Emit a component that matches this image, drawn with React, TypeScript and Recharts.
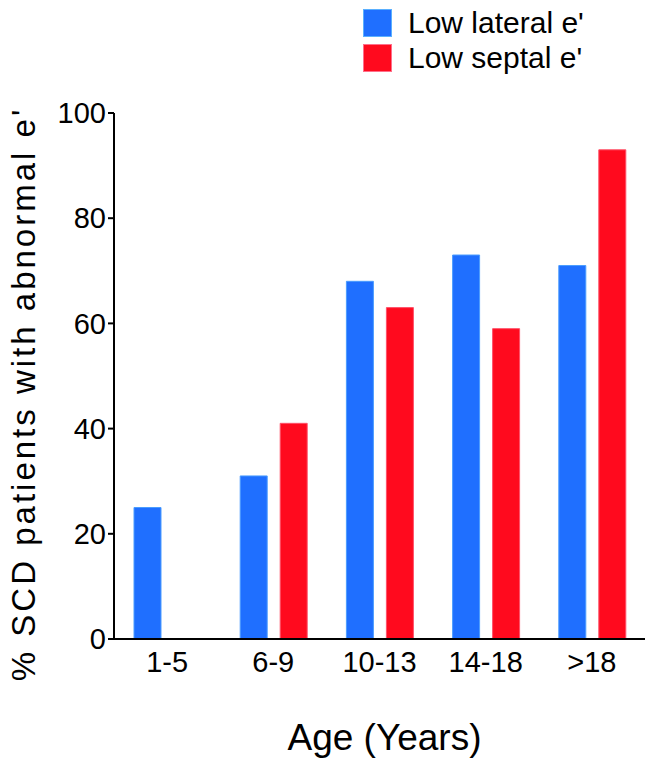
import { BarChart, Bar, XAxis, YAxis, Legend } from "recharts";

const ageGroups = ["1-5", "6-9", "10-13", "14-18", ">18"];
const lateralPct = [25, 31, 68, 73, 71];
const septalPct = [0, 41, 63, 59, 93];
const yTicks = [0, 20, 40, 60, 80, 100];

const BLUE = "#1f6fff";
const RED = "#ff0a1e";
const FONT = "'Liberation Sans', Arial, sans-serif";

const data = ageGroups.map((age, i) => ({ age, lateral: lateralPct[i], septal: septalPct[i] }));

function LegendBox() {
  const rows = [
    { label: "Low lateral e'", color: BLUE, edge: "#5ab0ff" },
    { label: "Low septal e'", color: RED, edge: "#ff6f8a" },
  ];
  return (
    <div style={{ fontFamily: FONT, fontSize: 30, color: "#000" }}>
      {rows.map((r) => (
        <div key={r.label} style={{ display: "flex", alignItems: "center", height: 35 }}>
          <div
            style={{
              width: 27,
              height: 26,
              background: r.color,
              border: `1px solid ${r.edge}`,
              marginRight: 16,
            }}
          />
          <span style={{ lineHeight: "30px" }}>{r.label}</span>
        </div>
      ))}
    </div>
  );
}

function YTitle() {
  return (
    <text
      x={35}
      y={394}
      transform="rotate(-90 35 394)"
      textAnchor="middle"
      fontFamily={FONT}
      fontSize={33}
      letterSpacing={3}
      fill="#000"
    >
      % SCD patients with abnormal e'
    </text>
  );
}

export default function App() {
  return (
    <div style={{ position: "absolute", left: 0, top: 0, background: "#fff" }}>
      <BarChart
        width={654}
        height={770}
        data={data}
        margin={{ top: 43, right: 9, bottom: 0, left: 0 }}
        barSize={27}
        barGap={13}
      >
        <XAxis
          dataKey="age"
          height={131}
          tickLine={false}
          axisLine={{ stroke: "#000", strokeWidth: 2 }}
          tick={{ fontSize: 29, fill: "#000", fontFamily: FONT }}
          tickMargin={6}
          label={{
            value: "Age (Years)",
            position: "insideBottom",
            offset: 20,
            dx: 5,
            fontSize: 37,
            fill: "#000",
            fontFamily: FONT,
          }}
        />
        <YAxis
          width={114}
          domain={[0, 100]}
          ticks={yTicks}
          tickSize={6}
          tickLine={{ stroke: "#000", strokeWidth: 2 }}
          axisLine={{ stroke: "#000", strokeWidth: 2 }}
          tick={{ fontSize: 29, fill: "#000", fontFamily: FONT }}
          label={<YTitle />}
        />
        <Legend
          layout="vertical"
          align="center"
          verticalAlign="top"
          wrapperStyle={{ top: 5, left: 363, width: 290 }}
          content={() => <LegendBox />}
        />
        <Bar dataKey="lateral" fill={BLUE} stroke="#4a9cff" strokeWidth={1} isAnimationActive={false} />
        <Bar dataKey="septal" fill={RED} stroke="#ff5068" strokeWidth={1} isAnimationActive={false} />
      </BarChart>
    </div>
  );
}
